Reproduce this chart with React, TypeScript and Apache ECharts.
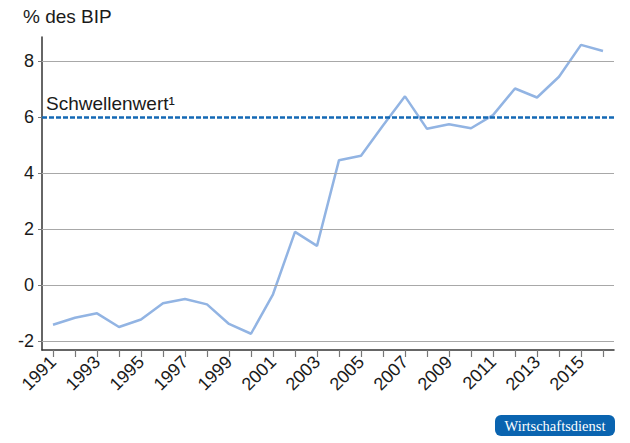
import React, { useEffect, useRef } from "react";
import * as echarts from "echarts";

const years = [
  "1991", "1992", "1993", "1994", "1995", "1996", "1997", "1998", "1999", "2000",
  "2001", "2002", "2003", "2004", "2005", "2006", "2007", "2008", "2009", "2010",
  "2011", "2012", "2013", "2014", "2015", "2016",
];
const values = [
  -1.42, -1.17, -1.01, -1.5, -1.23, -0.65, -0.5, -0.69, -1.39, -1.74,
  -0.33, 1.9, 1.4, 4.46, 4.62, 5.7, 6.74, 5.58, 5.74, 5.6,
  6.07, 7.02, 6.7, 7.44, 8.58, 8.36,
];
const yTicks = [-2, 0, 2, 4, 6, 8];
const gridValues = [-2, 0, 2, 4, 8];
const threshold = 6;
const thresholdLabel = "Schwellenwert¹";
const yTitle = "% des BIP";
const badgeText = "Wirtschaftsdienst";

const FONT = "'Liberation Sans', Arial, Helvetica, sans-serif";

export default function App() {
  const ref = useRef<HTMLDivElement>(null);
  useEffect(() => {
    document.body.style.margin = "0";
    const chart = echarts.init(ref.current!, undefined, { renderer: "svg" });
    chart.setOption({
      animation: false,
      backgroundColor: "#ffffff",
      textStyle: { fontFamily: FONT },
      grid: { left: 42, right: 16, top: 37, bottom: 93, containLabel: false },
      xAxis: {
        type: "category",
        data: years,
        boundaryGap: true,
        axisLine: { onZero: false, lineStyle: { color: "#333333", width: 1.5 } },
        axisTick: {
          show: true,
          alignWithLabel: true,
          interval: 0,
          length: 7,
          lineStyle: { color: "#777777", width: 1.2 },
        },
        axisLabel: {
          interval: 1,
          rotate: 45,
          color: "#1a1a1a",
          fontSize: 18,
          fontFamily: FONT,
          margin: 9,
        },
        splitLine: { show: false },
      },
      yAxis: {
        type: "value",
        min: -2.32,
        max: 8.86,
        axisLine: { show: true, onZero: false, lineStyle: { color: "#333333", width: 1.5 } },
        axisTick: {
          show: true,
          inside: false,
          length: 4,
          customValues: yTicks,
          lineStyle: { color: "#777777" },
        },
        axisLabel: {
          customValues: yTicks,
          color: "#1a1a1a",
          fontSize: 18,
          fontFamily: FONT,
          margin: 8,
        },
        splitLine: { show: false },
      },
      series: [
        {
          type: "line",
          data: gridValues.map(() => null),
          silent: true,
          showSymbol: false,
          lineStyle: { opacity: 0 },
          markLine: {
            silent: true,
            symbol: "none",
            label: { show: false },
            lineStyle: { color: "#a8a8a8", width: 1, type: "solid" },
            data: gridValues.map((v) => ({ yAxis: v })),
          },
          z: 1,
        },
        {
          type: "line",
          data: values,
          showSymbol: false,
          lineStyle: { color: "#92b4e3", width: 2.5 },
          itemStyle: { color: "#92b4e3" },
          z: 3,
          markLine: {
            silent: true,
            symbol: "none",
            lineStyle: { color: "#1469b5", width: 2.5, type: [5, 2] },
            label: {
              show: true,
              position: "insideStartTop",
              formatter: thresholdLabel,
              color: "#1a1a1a",
              fontSize: 19,
              fontFamily: FONT,
              distance: [4, 4],
            },
            data: [{ yAxis: threshold }],
            z: 4,
          },
        },
      ],
      graphic: [
        {
          type: "text",
          left: 23,
          top: 7,
          style: {
            text: yTitle,
            fontSize: 19,
            fontFamily: FONT,
            fill: "#1a1a1a",
          },
        },
        {
          type: "group",
          left: 495,
          top: 415,
          children: [
            {
              type: "rect",
              shape: { x: 0, y: 0, width: 120, height: 21, r: 6 },
              style: { fill: "#0a64b0" },
            },
            {
              type: "text",
              x: 60,
              y: 10.5,
              style: {
                text: badgeText,
                fontSize: 14.5,
                fontFamily: "'Liberation Serif', 'DejaVu Serif', serif",
                fill: "#ffffff",
                align: "center",
                verticalAlign: "middle",
              },
            },
          ],
        },
      ],
    });
    return () => chart.dispose();
  }, []);
  return <div ref={ref} style={{ width: 630, height: 443 }} />;
}
